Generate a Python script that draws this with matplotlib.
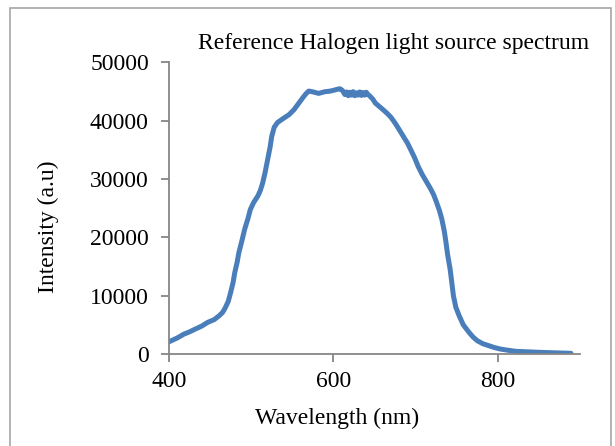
import matplotlib.pyplot as plt
from matplotlib.patches import Rectangle

plt.rcParams['font.family'] = ['Liberation Serif', 'DejaVu Serif']

# spectrum (wavelength nm, intensity a.u.)
wavelength = [400, 410, 418, 425, 432, 440, 447, 455, 461, 465, 468, 472, 475,
              478, 480, 483, 485, 489, 492, 496, 499, 503, 508, 511, 514, 517,
              520, 523, 525, 528, 532, 538, 546, 552, 558, 563, 567, 570, 574,
              578, 582, 586, 590, 594, 598, 602, 606, 608, 611,
              614, 616, 618, 620, 622, 624, 626, 628, 630, 632, 634, 636, 638,
              640, 642, 644, 648, 651, 658, 665, 670, 675, 680, 685, 690, 694,
              699, 703, 708, 713, 718, 722, 725, 729, 732, 735, 737, 739, 742,
              744, 746, 749, 753, 758, 765, 770, 775, 782, 789, 796, 803, 812,
              822, 835, 851, 870, 889]
intensity = [2100, 2750, 3400, 3800, 4280, 4800, 5420, 5900, 6560, 7100, 7800,
             9000, 10550, 12300, 13970, 15800, 17390, 19600, 21380, 23200, 24800,
             26000, 27080, 28000, 29360, 31200, 33350, 35500, 37340, 38900, 39700,
             40300, 41050, 41900, 43040, 44000, 44700, 45100, 45000, 44850, 44700,
             44850, 45000, 45050, 45150, 45300, 45450, 45500, 45200,
             44500, 44950, 44300, 44900, 44400, 45000, 44300, 44800, 44400, 44950,
             44350, 44850, 44400, 44900, 44500, 44300, 43700, 43040, 42200, 41330,
             40600, 39620, 38500, 37340, 36200, 35060, 33600, 32210, 30800, 29600,
             28400, 27300, 26200, 24600, 23090, 21000, 19100, 17000, 14540, 12300,
             9980, 8000, 6560, 5000, 3710, 2900, 2280, 1750, 1430, 1100, 855, 650,
             456, 380, 285, 200, 114]

fig = plt.figure(figsize=(6.15, 4.46), dpi=100)
fig.patches.append(Rectangle((10 / 615, -0.05), 601 / 615, 1 - 7.5 / 446 + 0.05,
                             transform=fig.transFigure, fill=False,
                             edgecolor='#A6A6A6', linewidth=1.2))

ax = fig.add_axes([169 / 615, 1 - 354 / 446, 411 / 615, 291.5 / 446])
ax.plot(wavelength, intensity, color='#4A7EBB', linewidth=3.6,
        solid_capstyle='round', solid_joinstyle='round')

ax.set_xlim(400, 900)
ax.set_ylim(0, 50000)
ax.set_xticks([400, 600, 800])
ax.set_yticks(range(0, 50001, 10000))

for side in ['top', 'right']:
    ax.spines[side].set_visible(False)
for side in ['left', 'bottom']:
    ax.spines[side].set_color('#868686')
    ax.spines[side].set_linewidth(1.3)
ax.tick_params(direction='out', length=5.5, width=1.3, color='#868686',
               labelsize=17)
ax.tick_params(axis='x', pad=7)
ax.tick_params(axis='y', pad=9)

fig.text(337 / 615, 1 - 418 / 446, 'Wavelength (nm)', fontsize=17,
         ha='center', va='center')
fig.text(48 / 615, 1 - 227 / 446, 'Intensity (a.u)', fontsize=17,
         ha='center', va='center', rotation=90)
fig.text(394 / 615, 1 - 43 / 446, 'Reference Halogen light source spectrum',
         fontsize=17, ha='center', va='center')

plt.savefig('out.png', dpi=100)
